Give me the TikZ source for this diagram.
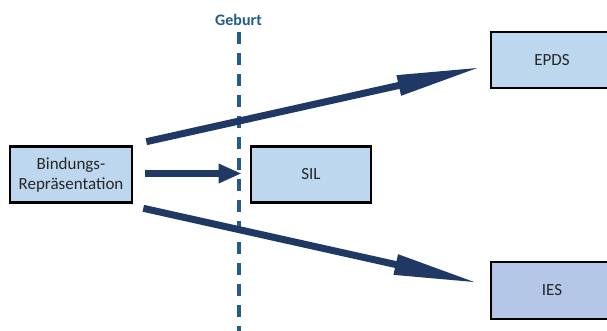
\documentclass[tikz,border=0pt]{standalone}
\usepackage{fontspec}
\setmainfont{Carlito}
\usetikzlibrary{arrows.meta}
\definecolor{boxfill}{HTML}{BDD7EE}
\definecolor{boxfillb}{HTML}{B4C7E7}
\definecolor{arrowblue}{HTML}{1F3864}
\definecolor{birthblue}{HTML}{245A8C}
\tikzset{
  stage/.style={draw=black, line width=2.6pt, fill=boxfill, inner sep=0pt,
    minimum width=122pt, minimum height=56pt, font=\fontsize{17}{20}\selectfont,
    align=center, text=black!85},
  flow/.style={draw=none, fill=none, line width=7pt, arrowblue,
    -{Triangle[length=85pt,width=19pt]}},
  shortflow/.style={line width=7pt, arrowblue,
    -{Triangle[length=23pt,width=18pt]}},
  birthline/.style={birthblue, line width=4pt, dash pattern=on 12pt off 9pt}
}
\begin{document}
\begin{tikzpicture}[x=1pt,y=-1pt]
\useasboundingbox (0,0) rectangle (607,330);
\fill[white] (0,0) rectangle (607,330);

% birth marker
\node[font=\fontsize{16}{18}\bfseries\selectfont, text=birthblue] (geburt) at (238.5,20) {Geburt};
\coordinate (lineend) at (239,332);
\draw[birthline] (239,32) -- (lineend);

% boxes
\node[stage] (bind) at (71,174.5) {Bindungs-\\Repräsentation};
\node[stage, minimum width=120pt] (sil) at (311,174.5) {SIL};
\node[stage] (epds) at (552,60) {EPDS};
\node[stage, fill=boxfillb, minimum height=57pt] (ies) at (552,290.5) {IES};

% arrows
\draw[arrowblue, line width=7pt, -{Triangle[length=85pt,width=19pt]}]
  ([xshift=13pt,yshift=3.5pt]bind.north east) -- ([xshift=-8pt,yshift=-7pt]epds.west);
\draw[shortflow]
  ([xshift=12pt,yshift=1pt]bind.east) -- ([xshift=-8pt,yshift=1pt]sil.west);
\draw[arrowblue, line width=7pt, -{Triangle[length=85pt,width=19pt]}]
  ([xshift=10pt,yshift=-4.5pt]bind.south east) -- ([xshift=-11pt,yshift=7.5pt]ies.west);
\end{tikzpicture}
\end{document}
